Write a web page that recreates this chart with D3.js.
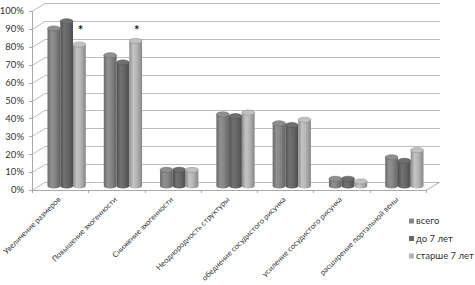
<!DOCTYPE html>
<html>
<head>
<meta charset="utf-8">
<script src="https://cdn.jsdelivr.net/npm/d3@7"></script>
<style>
  body { margin: 0; background: #fff; }
  svg { font-family: Lato, "Liberation Sans", sans-serif; }
</style>
</head>
<body>
<div id="chart"></div>
<script>
// data
const categories = [
  "Увеличение размеров",
  "Повышение эхогенности",
  "Снижение эхогенности",
  "Неоднородность структуры",
  "обеднение сосудистого рисунка",
  "усиление сосудистого рисунка",
  "расширение портальной вены"
];
const seriesNames = ["всего", "до 7 лет", "старше 7 лет"];
const vsego = [88, 73, 9, 40, 35, 4, 16];
const do7 = [92, 69, 9, 39, 34, 4, 14];
const starshe7 = [79, 81, 9, 41, 37, 2.5, 20];
const starred = [0, 1]; // groups with * over the last bar
const yTicks = [0, 10, 20, 30, 40, 50, 60, 70, 80, 90, 100];

const seriesValues = [vsego, do7, starshe7];
const colors = ["#858585", "#676767", "#b4b4b4"];

const W = 475, H = 285;
const DX = 13, DY = 8;            // depth offset of the 3d box
const front = { left: 32, right: 426, bottom: 190, top: 11 };

const svg = d3.select("#chart").append("svg")
  .attr("width", W).attr("height", H);

const y = d3.scaleLinear().domain([0, 100]).range([front.bottom, front.top]);

// bars sit in the middle of the depth
const x0 = d3.scaleBand()
  .domain(categories)
  .range([front.left + DX / 2, front.right + DX / 2])
  .paddingInner(0.32)
  .paddingOuter(0.16);
const x1 = d3.scaleBand().domain(d3.range(3)).range([0, x0.bandwidth()]);

// gradients for cylinders
const defs = svg.append("defs");
colors.forEach((c, i) => {
  const g = defs.append("linearGradient").attr("id", "cyl" + i)
    .attr("x1", "0%").attr("x2", "100%").attr("y1", "0%").attr("y2", "0%");
  g.append("stop").attr("offset", "0%").attr("stop-color", d3.color(c).darker(0.7));
  g.append("stop").attr("offset", "30%").attr("stop-color", d3.color(c).brighter(0.25));
  g.append("stop").attr("offset", "60%").attr("stop-color", c);
  g.append("stop").attr("offset", "100%").attr("stop-color", d3.color(c).darker(0.8));
});

// back wall gridlines and side wall
const grid = svg.append("g").attr("stroke", "#bdbdbd").attr("stroke-width", 1).attr("fill", "none");
yTicks.forEach(t => {
  const yy = Math.round(y(t)) + 0.5;
  grid.append("line")
    .attr("x1", front.left + DX).attr("x2", front.right + DX + 1)
    .attr("y1", yy - DY).attr("y2", yy - DY);
  grid.append("line")
    .attr("x1", front.left).attr("x2", front.left + DX)
    .attr("y1", yy).attr("y2", yy - DY);
});

// floor
const floor = svg.append("g").attr("stroke", "#a8a8a8").attr("fill", "none");
floor.append("line")
  .attr("x1", front.left).attr("x2", front.right)
  .attr("y1", front.bottom + 0.5).attr("y2", front.bottom + 0.5);
floor.append("line")
  .attr("x1", front.right).attr("x2", front.right + DX)
  .attr("y1", front.bottom + 0.5).attr("y2", front.bottom + 0.5 - DY);

// vertical axis
svg.append("line")
  .attr("x1", front.left + 0.5).attr("x2", front.left + 0.5)
  .attr("y1", front.top).attr("y2", front.bottom)
  .attr("stroke", "#a8a8a8");
yTicks.forEach(t => {
  svg.append("line")
    .attr("x1", front.left - 3).attr("x2", front.left)
    .attr("y1", Math.round(y(t)) + 0.5).attr("y2", Math.round(y(t)) + 0.5)
    .attr("stroke", "#a8a8a8");
});

svg.append("g").selectAll("text")
  .data(yTicks)
  .join("text")
  .attr("x", 24)
  .attr("y", d => y(d))
  .attr("dy", "0.35em")
  .attr("text-anchor", "end")
  .attr("font-size", 9.5)
  .attr("fill", "#333")
  .text(d => d + "%");

// tick marks on front edge between groups
const step = x0.step();
d3.range(categories.length + 1).forEach(i => {
  const xx = Math.round(x0(categories[0]) - DX / 2 - step * 0.16 + i * step) + 0.5;
  svg.append("line")
    .attr("x1", xx).attr("x2", xx)
    .attr("y1", front.bottom).attr("y2", front.bottom + 3)
    .attr("stroke", "#a8a8a8");
});

// cylinders
const base = y(0) - DY / 2;
const ry = 2.6;
const groups = svg.append("g").selectAll("g")
  .data(categories)
  .join("g")
  .attr("transform", d => `translate(${x0(d)},0)`);

groups.each(function (cat, ci) {
  const g = d3.select(this);
  seriesValues.forEach((vals, si) => {
    const bx = x1(si);
    const bw = x1.bandwidth();
    const top = y(vals[ci]) - DY / 2;
    g.append("path")
      .attr("d", `M${bx},${top} L${bx},${base} A${bw / 2},${ry} 0 0 0 ${bx + bw},${base} L${bx + bw},${top} Z`)
      .attr("fill", `url(#cyl${si})`);
    g.append("ellipse")
      .attr("cx", bx + bw / 2).attr("cy", top)
      .attr("rx", bw / 2).attr("ry", ry)
      .attr("fill", d3.color(colors[si]).brighter(0.2))
      .attr("stroke", d3.color(colors[si]).darker(0.6))
      .attr("stroke-width", 0.6);
  });
});

// asterisks
starred.forEach(ci => {
  svg.append("text")
    .attr("x", x0(categories[ci]) + x1(2) + x1.bandwidth() / 2 + 1)
    .attr("y", 35)
    .attr("text-anchor", "middle")
    .attr("font-size", 13)
    .attr("font-weight", "bold")
    .attr("fill", "#222")
    .text("*");
});

// category labels
svg.append("g").selectAll("text")
  .data(categories)
  .join("text")
  .attr("transform", d => `translate(${x0(d) + x0.bandwidth() / 2 - DX / 2 + 1},${front.bottom + 10}) rotate(-45)`)
  .attr("text-anchor", "end")
  .attr("font-size", 7.7)
  .attr("fill", "#333")
  .text(d => d);

// legend
const legend = svg.append("g").selectAll("g")
  .data(seriesNames)
  .join("g")
  .attr("transform", (d, i) => `translate(409, ${221 + i * 17.5})`);
legend.append("rect")
  .attr("x", 0).attr("y", -2.5)
  .attr("width", 5).attr("height", 5)
  .attr("fill", (d, i) => colors[i]);
legend.append("text")
  .attr("x", 7)
  .attr("dy", "0.35em")
  .attr("font-size", 9.5)
  .attr("fill", "#333")
  .text(d => d);
</script>
</body>
</html>
